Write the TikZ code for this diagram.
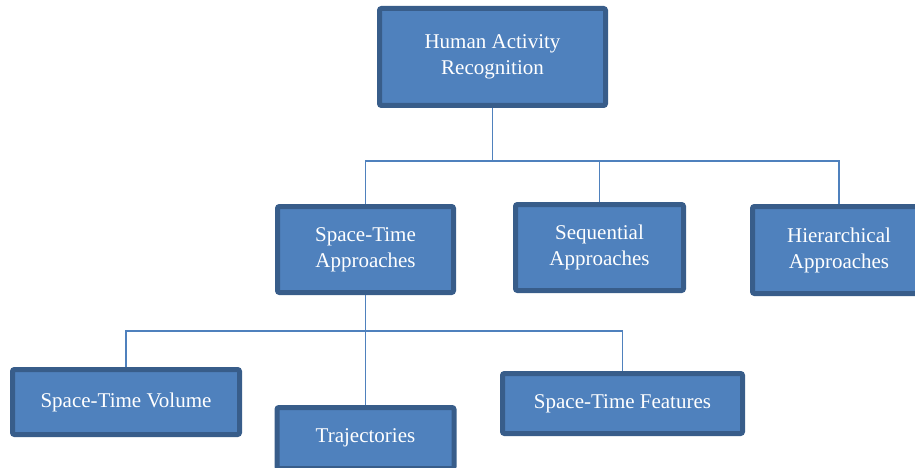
\documentclass[tikz,border=0pt]{standalone}
\usepackage{fontspec}
\setmainfont{Liberation Serif}
\definecolor{boxfill}{HTML}{4F81BD}
\definecolor{boxedge}{HTML}{385D8A}
\tikzset{
    box/.style={draw=boxedge, fill=boxfill, line width=5pt, rounded corners=2pt,
        text=white, align=center, inner sep=2pt,
        font=\fontsize{21}{26}\selectfont},
    link/.style={draw=boxfill, line width=1.5pt}
}
\begin{document}
\begin{tikzpicture}[x=1pt, y=-1pt]
    \clip (0,0) rectangle (915,468);

    % Racine
    \node[box, minimum width=226pt, minimum height=97pt] (har) at (492.5,57) {Human Activity\\Recognition};

    % Niveau 1
    \node[box, minimum width=176pt, minimum height=86pt] (sta) at (365.5,249.5) {Space-Time\\Approaches};
    \node[box, minimum width=168pt, minimum height=86pt] (seq) at (599.5,247.5) {Sequential\\Approaches};
    \node[box, minimum width=173pt, minimum height=87pt] (hie) at (839,250) {Hierarchical\\Approaches};

    % Niveau 2
    \node[box, minimum width=227pt, minimum height=65pt] (stv) at (126,402) {Space-Time Volume};
    \node[box, minimum width=177pt, minimum height=61pt] (tra) at (365.5,438) {Trajectories};
    \node[box, minimum width=240pt, minimum height=60pt] (stf) at (622.5,403.5) {Space-Time Features};

    % Liaisons
    \path (har.south) ++(0,53) coordinate (bus1);
    \path (sta.south) ++(0,36) coordinate (bus2);
    \draw[link] (har.south) -- (bus1);
    \draw[link] (bus1) -| (sta.north);
    \draw[link] (bus1) -| (seq.north);
    \draw[link] (bus1) -| (hie.north);
    \draw[link] (sta.south) -- (bus2);
    \draw[link] (bus2) -| (stv.north);
    \draw[link] (bus2) -- (tra.north);
    \draw[link] (bus2) -| (stf.north);
\end{tikzpicture}
\end{document}
